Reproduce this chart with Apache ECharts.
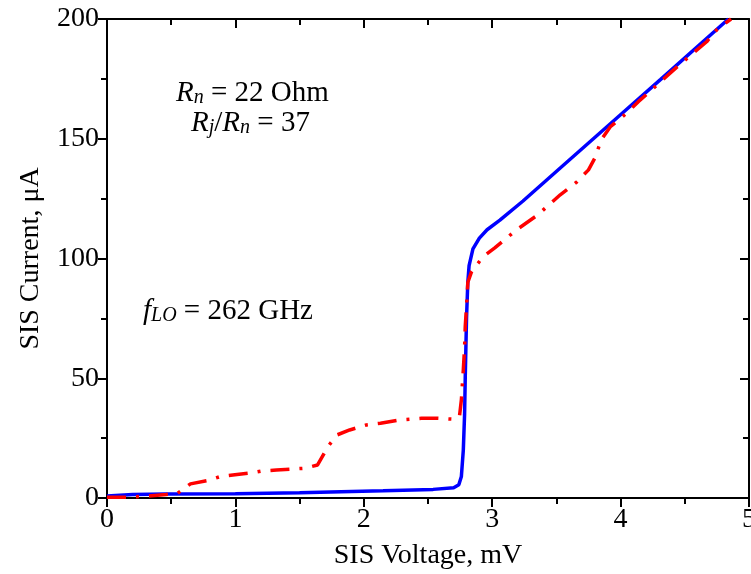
<!DOCTYPE html>
<html>
<head>
<meta charset="utf-8">
<script src="https://cdn.jsdelivr.net/npm/echarts@6/dist/echarts.min.js"></script>
<style>
  html, body { margin: 0; padding: 0; background: #fff; }
  #chart { width: 751px; height: 574px; }
</style>
</head>
<body>
<div id="chart"></div>
<script>
// axis ticks
var xTicks = { min: 0, max: 5, step: 1 };
var yTicks = { min: 0, max: 200, step: 50 };

// solid blue curve (mV, uA)
var blueV = [0, 0.2, 0.46, 1.0, 1.5, 2.15, 2.54, 2.70, 2.74, 2.76, 2.775, 2.785, 2.79, 2.80, 2.81, 2.82, 2.85, 2.90, 2.96, 3.06, 3.24, 3.53, 4.05, 4.31, 4.84];
var blueI = [0.8, 1.5, 1.7, 1.8, 2.2, 3.0, 3.6, 4.3, 5.5, 9, 20, 35, 50, 75, 90, 97, 104, 108.5, 112, 116, 124, 137.8, 162.4, 174.7, 200];

// dash-dot red curve (mV, uA)
var redV = [0, 0.15, 0.2, 0.31, 0.46, 0.55, 0.65, 0.8, 0.88, 0.98, 1.14, 1.21, 1.32, 1.54, 1.64, 1.72, 1.79, 1.89, 2.02, 2.13, 2.28, 2.45, 2.57, 2.70, 2.745, 2.76, 2.775, 2.785, 2.79, 2.80, 2.81, 2.84, 2.93, 3.02, 3.19, 3.35, 3.53, 3.66, 3.75, 3.80, 3.85, 3.92, 4.05, 4.14, 4.23, 4.33, 4.44, 4.57, 4.67, 4.75, 4.86];
var redI = [0.3, 0.3, 0.5, 0.8, 1.5, 2.0, 5.9, 7.5, 8.9, 9.6, 10.6, 11.3, 11.7, 12.4, 13.8, 21.4, 26.3, 28.4, 30.5, 31.2, 32.6, 33.3, 33.3, 32.9, 34, 41, 53.5, 63, 71.6, 80, 90, 94.6, 100.8, 104.4, 112, 118, 126.6, 132, 137, 142, 149.6, 155, 160.8, 165.6, 169.8, 174.7, 180, 186, 190.5, 195.6, 200];

var xTitle = 'SIS Voltage, mV';
var yTitle = 'SIS Current, \u03bcA';

var FONT = "'Liberation Serif', 'Times New Roman', serif";

function pairs(xs, ys) {
    var out = [];
    for (var i = 0; i < xs.length; i++) {
        out.push([xs[i], ys[i]]);
    }
    return out;
}

function makeAxis(t, pos, main, name, gap) {
    return {
        type: 'value',
        position: pos,
        min: t.min,
        max: t.max,
        interval: t.step,
        name: main ? name : '',
        nameLocation: 'middle',
        nameGap: gap,
        nameTextStyle: { fontFamily: FONT, fontSize: 28, color: '#000' },
        axisLine: { show: true, onZero: false, lineStyle: { color: '#000', width: 2 } },
        axisTick: { show: true, inside: !main, length: 9, lineStyle: { color: '#000', width: 2 } },
        minorTick: { show: true, splitNumber: 2, length: 6, lineStyle: { color: '#000', width: 2 } },
        axisLabel: { show: main, margin: 8, fontFamily: FONT, fontSize: 28, color: '#000' },
        splitLine: { show: false }
    };
}

var rich = {
    i: { fontFamily: FONT, fontStyle: 'italic', fontSize: 29, lineHeight: 30, color: '#000' },
    t: { fontFamily: FONT, fontSize: 29, lineHeight: 30, color: '#000' },
    s: { fontFamily: FONT, fontStyle: 'italic', fontSize: 20, lineHeight: 12, verticalAlign: 'bottom', color: '#000' }
};

function note(x, y, text) {
    return {
        type: 'text',
        x: x,
        y: y,
        z: 10,
        style: { text: text, rich: rich, align: 'left', verticalAlign: 'middle' }
    };
}

var chart = echarts.init(document.getElementById('chart'), null, { renderer: 'canvas' });
chart.setOption({
    animation: false,
    backgroundColor: '#fff',
    grid: { left: 107, right: 2, top: 19, bottom: 76, outerBoundsMode: 'none', containLabel: false },
    xAxis: [
        makeAxis(xTicks, 'bottom', true, xTitle, 44),
        makeAxis(xTicks, 'top', false, '', 0)
    ],
    yAxis: [
        makeAxis(yTicks, 'left', true, yTitle, 62),
        makeAxis(yTicks, 'right', false, '', 0)
    ],
    series: [
        {
            type: 'line',
            data: pairs(redV, redI),
            showSymbol: false,
            clip: true,
            lineStyle: { color: '#ff0000', width: 3.5, type: [19, 10, 3, 10], cap: 'butt' },
            z: 3
        },
        {
            type: 'line',
            data: pairs(blueV, blueI),
            showSymbol: false,
            clip: true,
            lineStyle: { color: '#0000ff', width: 3.5 },
            z: 2
        }
    ],
    graphic: [
        note(176, 93, '{i|R}{s|n}{t| = 22 Ohm}'),
        note(191, 123, '{i|R}{s|j}{t|/}{i|R}{s|n}{t| = 37}'),
        note(143, 311, '{i|f}{s|LO}{t| = 262 GHz}')
    ]
});
</script>
</body>
</html>
